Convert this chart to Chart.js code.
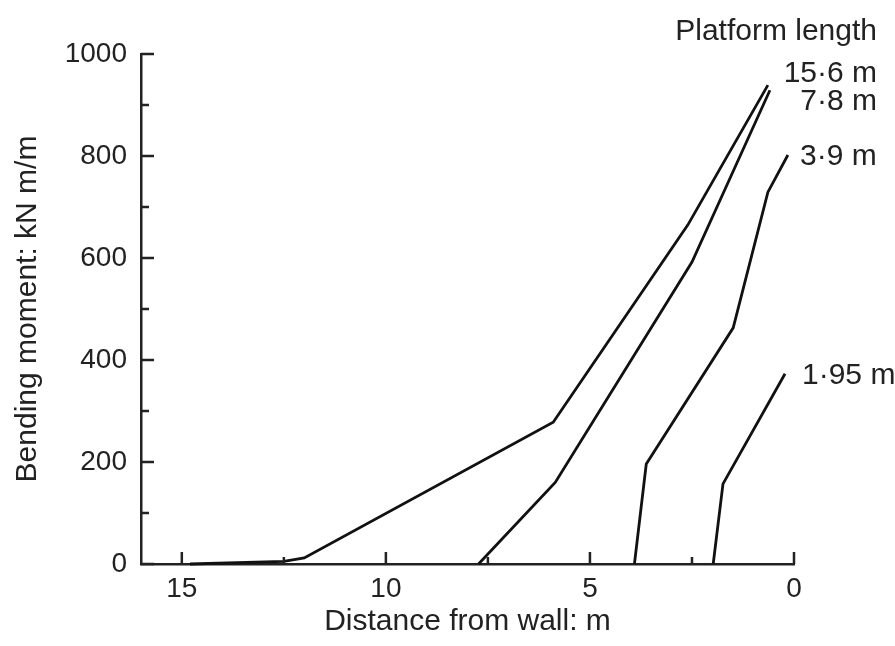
<!DOCTYPE html>
<html>
<head>
<meta charset="utf-8">
<script src="https://cdn.jsdelivr.net/npm/chart.js@4/dist/chart.umd.min.js"></script>
<style>
  html,body{margin:0;padding:0;background:#fff;}
  #wrap{width:895px;height:646px;position:relative;}
</style>
</head>
<body>
<div id="wrap"><canvas id="c" width="895" height="646"></canvas></div>
<script>
// distance from wall (m) / bending moment (kN m/m)
const len156Dist = [14.8, 12.5, 12.0, 5.9, 2.6, 0.64];
const len156Mom  = [0, 5, 12, 278, 665, 939];
const len78Dist  = [7.73, 5.85, 2.5, 0.59];
const len78Mom   = [0, 160, 592, 929];
const len39Dist  = [3.91, 3.62, 1.49, 0.64, 0.15];
const len39Mom   = [0, 196, 463, 729, 802];
const len195Dist = [1.98, 1.74, 0.22];
const len195Mom  = [0, 157, 373];

const xMajor = [15, 10, 5, 0];
const xMinor = [12.5, 7.5, 2.5];
const yMajor = [0, 200, 400, 600, 800, 1000];
const yMinor = [100, 300, 500, 700, 900];

const seriesNames = ['15·6 m', '7·8 m', '3·9 m', '1·95 m'];
const legendTitle = 'Platform length';

const FONT = "'Liberation Sans', Arial, sans-serif";
const INK = '#222';

const pts = (xs, ys) => xs.map((x,i)=>({x, y:ys[i]}));
const mkDs = (label, xs, ys) => ({label, data:pts(xs,ys), borderColor:'#111', borderWidth:2.8,
  pointRadius:0, tension:0, fill:false, clip:false});

// inward tick marks (major + minor) on both axes
const InTicks = {
  id:'inTicks',
  afterDraw(chart){
    const {ctx, scales:{x, y}} = chart;
    const {left, bottom} = chart.chartArea;
    ctx.save();
    ctx.strokeStyle = INK; ctx.lineWidth = 2.5;
    ctx.beginPath();
    xMajor.forEach(v=>{ const p=x.getPixelForValue(v); ctx.moveTo(p,bottom); ctx.lineTo(p,bottom-12); });
    xMinor.forEach(v=>{ const p=x.getPixelForValue(v); ctx.moveTo(p,bottom); ctx.lineTo(p,bottom-7); });
    yMajor.forEach(v=>{ const p=y.getPixelForValue(v); ctx.moveTo(left,p); ctx.lineTo(left+13,p); });
    yMinor.forEach(v=>{ const p=y.getPixelForValue(v); ctx.moveTo(left,p); ctx.lineTo(left+8,p); });
    ctx.stroke();
    ctx.restore();
  }
};

// curve labels at the right hand side
const CurveLabels = {
  id:'curveLabels',
  afterDraw(chart){
    const ctx = chart.ctx;
    ctx.save();
    ctx.fillStyle = INK;
    ctx.font = `30px ${FONT}`;
    ctx.textBaseline = 'alphabetic';
    ctx.textAlign = 'right';
    ctx.fillText(legendTitle, 877, 40);
    ctx.fillText(seriesNames[0], 877, 82);
    ctx.fillText(seriesNames[1], 877, 110);
    ctx.textAlign = 'left';
    ctx.fillText(seriesNames[2], 800, 165);
    ctx.fillText(seriesNames[3], 802, 384);
    ctx.restore();
  }
};

new Chart(document.getElementById('c').getContext('2d'), {
  type:'line',
  data:{datasets:[
    mkDs(seriesNames[0], len156Dist, len156Mom),
    mkDs(seriesNames[1], len78Dist, len78Mom),
    mkDs(seriesNames[2], len39Dist, len39Mom),
    mkDs(seriesNames[3], len195Dist, len195Mom)
  ]},
  options:{
    responsive:false, animation:false,
    layout:{padding:{top:54, right:101, left:0, bottom:0}},
    plugins:{legend:{display:false}, tooltip:{enabled:false}},
    scales:{
      x:{type:'linear', reverse:true, min:0, max:16,
        afterBuildTicks:s=>{ s.ticks = xMajor.map(v=>({value:v})); },
        afterFit:s=>{ s.height = 82; },
        grid:{drawOnChartArea:false, drawTicks:false},
        border:{display:true, color:INK, width:2.5},
        ticks:{color:INK, padding:8, font:{family:FONT, size:28}, callback:v=>String(v)},
        title:{display:true, text:'Distance from wall: m', color:INK, padding:{top:0, bottom:6},
          font:{family:FONT, size:30}}
      },
      y:{type:'linear', min:0, max:1000,
        afterBuildTicks:s=>{ s.ticks = yMajor.map(v=>({value:v})); },
        afterFit:s=>{ s.width = 141; },
        grid:{drawOnChartArea:false, drawTicks:false},
        border:{display:true, color:INK, width:2.5},
        ticks:{color:INK, padding:14, font:{family:FONT, size:28}, callback:v=>String(v)},
        title:{display:true, text:'Bending moment: kN m/m', color:INK, padding:{top:10, bottom:0},
          font:{family:FONT, size:30}}
      }
    }
  },
  plugins:[InTicks, CurveLabels]
});
</script>
</body>
</html>
